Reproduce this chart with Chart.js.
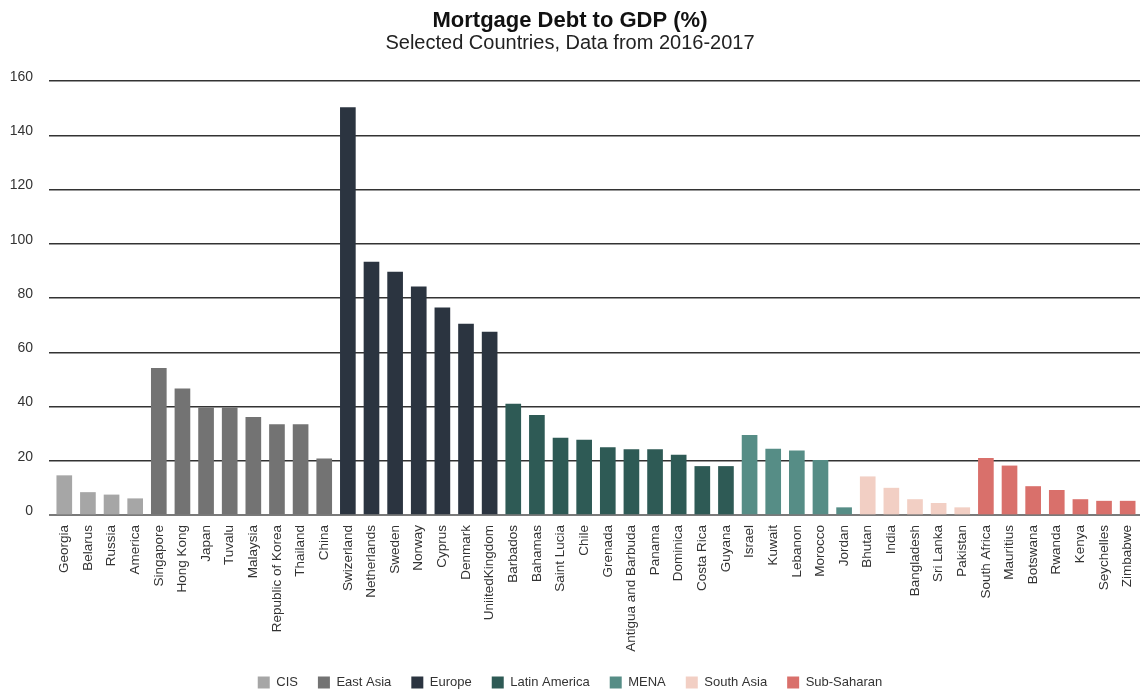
<!DOCTYPE html>
<html>
<head>
<meta charset="utf-8">
<title>Mortgage Debt to GDP (%)</title>
<script src="https://cdn.jsdelivr.net/npm/chart.js@4"></script>
<style>
  html, body { margin: 0; padding: 0; background: #fff; overflow: hidden; }
  #wrap { width: 1140px; height: 699px; }
</style>
</head>
<body>
<div id="wrap"><canvas id="grafico" width="1140" height="699"></canvas></div>
<script>
// paises e valores
const countries = ["Georgia","Belarus","Russia","America",
  "Singapore","Hong Kong","Japan","Tuvalu","Malaysia","Republic of Korea","Thailand","China",
  "Swizerland","Netherlands","Sweden","Norway","Cyprus","Denmark","UniitedKingdom",
  "Barbados","Bahamas","Saint Lucia","Chile","Grenada","Antigua and Barbuda","Panama","Dominica","Costa Rica","Guyana",
  "Israel","Kuwait","Lebanon","Morocco","Jordan",
  "Bhutan","India","Bangladesh","Sri Lanka","Pakistan",
  "South Africa","Mauritius","Botswana","Rwanda","Kenya","Seychelles","Zimbabwe"];

const values = [14.5, 8.3, 7.4, 6.0,
  54.1, 46.5, 39.5, 39.5, 36.0, 33.3, 33.3, 20.7,
  150.2, 93.2, 89.6, 84.1, 76.4, 70.4, 67.4,
  40.9, 36.7, 28.4, 27.6, 24.9, 24.1, 24.1, 22.1, 17.9, 17.9,
  29.4, 24.3, 23.7, 20.2, 2.7,
  14.1, 9.9, 5.7, 4.3, 2.7,
  20.9, 18.1, 10.5, 9.1, 5.7, 5.1, 5.1];

const regions = ["CIS","CIS","CIS","CIS",
  "East Asia","East Asia","East Asia","East Asia","East Asia","East Asia","East Asia","East Asia",
  "Europe","Europe","Europe","Europe","Europe","Europe","Europe",
  "Latin America","Latin America","Latin America","Latin America","Latin America","Latin America","Latin America","Latin America","Latin America","Latin America",
  "MENA","MENA","MENA","MENA","MENA",
  "South Asia","South Asia","South Asia","South Asia","South Asia",
  "Sub-Saharan","Sub-Saharan","Sub-Saharan","Sub-Saharan","Sub-Saharan","Sub-Saharan","Sub-Saharan"];

const regionNames = ["CIS","East Asia","Europe","Latin America","MENA","South Asia","Sub-Saharan"];
const regionColors = ["#a6a6a6","#737373","#2b3440","#2e5a55","#568d86","#f2cfc4","#d9706b"];

const yTicks = [0, 20, 40, 60, 80, 100, 120, 140, 160];

Chart.defaults.font.family = "'Liberation Sans', Arial, Helvetica, sans-serif";
Chart.defaults.color = "#333";

// um dataset por regiao, x = indice do pais
const datasets = regionNames.map((r, k) => ({
  label: r,
  data: countries.map((c, i) => regions[i] === r ? {x: i, y: values[i]} : null).filter(p => p),
  backgroundColor: regionColors[k],
  borderWidth: 0,
  barThickness: 15,
  grouped: false
}));

new Chart(document.getElementById("grafico"), {
  type: "bar",
  data: { datasets: datasets },
  options: {
    responsive: false,
    animation: false,
    devicePixelRatio: 1,
    layout: { padding: 0 },
    plugins: {
      title: {
        display: true,
        text: "Mortgage Debt to GDP (%)",
        color: "#111",
        font: { size: 22, weight: "bold", lineHeight: 1 },
        padding: { top: 10, bottom: 1.4 }
      },
      subtitle: {
        display: true,
        text: "Selected Countries, Data from 2016-2017",
        color: "#222",
        font: { size: 20, lineHeight: 1 },
        padding: { top: 0, bottom: 27.6 }
      },
      legend: {
        position: "bottom",
        labels: {
          boxWidth: 12,
          boxHeight: 12,
          padding: 20,
          color: "#333",
          font: { size: 13 }
        }
      },
      tooltip: { enabled: false }
    },
    scales: {
      x: {
        type: "linear",
        min: -0.145,
        max: 45.02,
        grid: { display: false, drawTicks: false },
        border: { display: false },
        ticks: {
          stepSize: 1,
          autoSkip: false,
          includeBounds: false,
          maxRotation: 90,
          minRotation: 90,
          padding: 10,
          color: "#333",
          font: { size: 13.5 },
          callback: v => countries[v] !== undefined ? countries[v] : ""
        },
        afterFit: s => { s.height = 141; s.paddingLeft = 0; s.paddingRight = 0; }
      },
      y: {
        min: 0,
        max: 160,
        afterBuildTicks: s => { s.ticks = yTicks.map(v => ({value: v})); },
        afterFit: s => { s.width = 49; },
        border: { display: false },
        grid: {
          drawTicks: false,
          color: c => c.tick && c.tick.value === 0 ? "#7a7a7a" : "#333",
          lineWidth: c => c.tick && c.tick.value === 0 ? 2 : 1.5
        },
        ticks: {
          padding: 16,
          labelOffset: -4,
          color: "#333",
          font: { size: 14 }
        }
      }
    }
  }
});
</script>
</body>
</html>
